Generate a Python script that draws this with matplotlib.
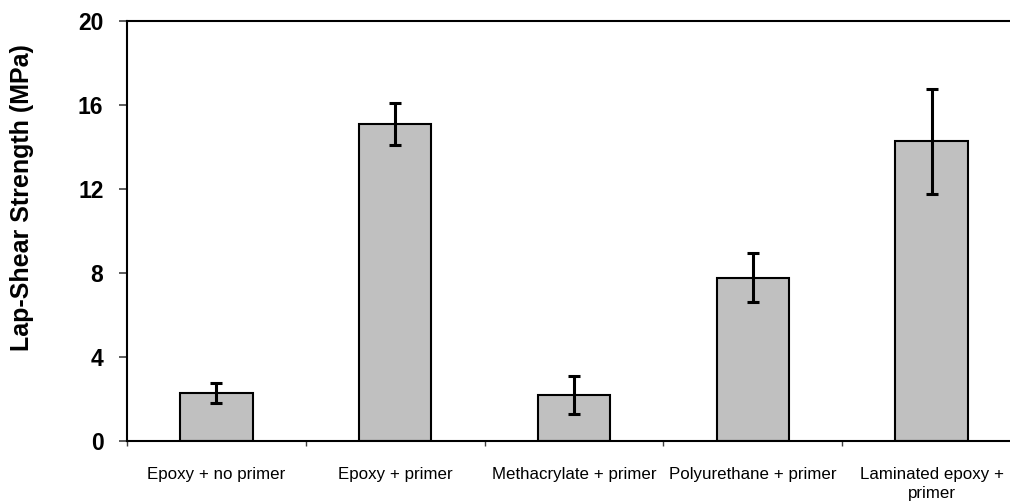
import matplotlib
matplotlib.use("Agg")
import matplotlib.pyplot as plt
import numpy as np

plt.rcParams['font.family'] = ['Liberation Sans', 'DejaVu Sans']

categories = [
    "Epoxy + no primer",
    "Epoxy + primer",
    "Methacrylate + primer",
    "Polyurethane + primer",
    "Laminated epoxy +\nprimer",
]
strength = [2.28, 15.08, 2.18, 7.78, 14.28]
strength_err = [0.46, 1.00, 0.90, 1.18, 2.50]
y_ticks = [0, 4, 8, 12, 16, 20]

W, H = 1010, 501
fig = plt.figure(figsize=(W / 100, H / 100), dpi=100)
# plot area runs past the right edge of the canvas
ax = fig.add_axes([127 / W, 60 / H, 894 / W, 420 / H])

x = np.arange(len(categories))
ax.bar(x, strength, width=0.405, color="#C0C0C0", edgecolor="black",
       linewidth=1.5, zorder=2)
ax.errorbar(x, strength, yerr=strength_err, fmt="none", ecolor="black",
            elinewidth=2.2, capsize=4.5, capthick=2.2, zorder=3)

ax.set_xlim(-0.5, len(categories) - 0.5)
ax.set_ylim(0, 20)
ax.set_yticks(y_ticks)
ax.set_yticklabels([str(v) for v in y_ticks], fontsize=16.5, fontweight="bold")
ax.tick_params(axis="y", direction="out", length=6, width=1.2, pad=11,
               color="#404040")

# category boundaries carry the tick marks, centres carry the labels
ax.set_xticks(np.arange(len(categories) + 1) - 0.5)
ax.set_xticklabels([])
ax.tick_params(axis="x", which="major", direction="out", length=3.5,
               width=1.0, color="#404040")
ax.set_xticks(x, minor=True)
ax.set_xticklabels(categories, minor=True, fontsize=12.2, ha="center",
                   linespacing=1.35)
ax.tick_params(axis="x", which="minor", length=0, pad=18.5)

for side in ("top", "left", "bottom"):
    ax.spines[side].set_linewidth(1.5)
    ax.spines[side].set_color("black")
ax.spines["right"].set_visible(False)

fig.text(22 / W, 1 - 197.5 / H, "Lap-Shear Strength (MPa)", rotation=90,
         ha="center", va="center", fontsize=18, fontweight="bold")

fig.savefig("out.png", dpi=100)
